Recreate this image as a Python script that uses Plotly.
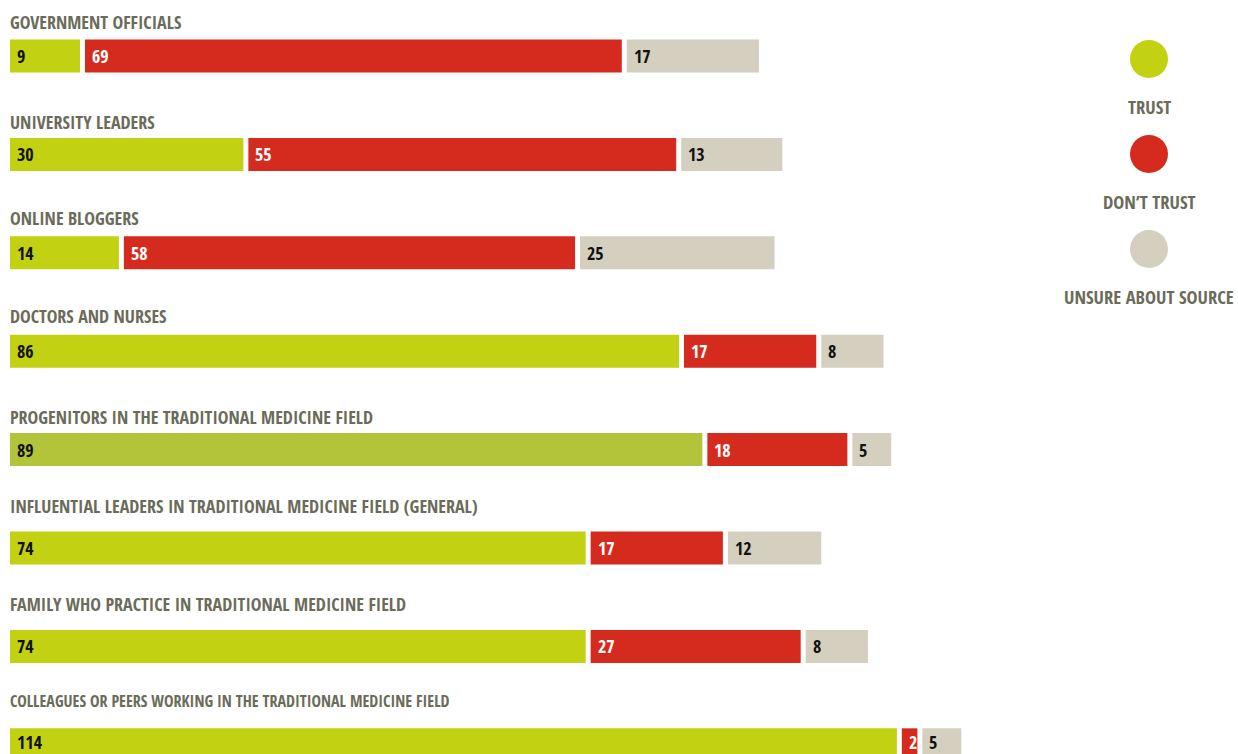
import plotly.graph_objects as go

categories = [
    "GOVERNMENT OFFICIALS",
    "UNIVERSITY LEADERS",
    "ONLINE BLOGGERS",
    "DOCTORS AND NURSES",
    "PROGENITORS IN THE TRADITIONAL MEDICINE FIELD",
    "INFLUENTIAL LEADERS IN TRADITIONAL MEDICINE FIELD (GENERAL)",
    "FAMILY WHO PRACTICE IN TRADITIONAL MEDICINE FIELD",
    "COLLEAGUES OR PEERS WORKING IN THE TRADITIONAL MEDICINE FIELD",
]
trust = [9, 30, 14, 86, 89, 74, 74, 114]
dont_trust = [69, 55, 58, 17, 18, 17, 27, 2]
unsure = [17, 13, 25, 8, 5, 12, 8, 5]
series_names = ["TRUST", "DON\u2019T TRUST", "UNSURE ABOUT SOURCE"]

# styles
GREEN = "#c2d112"
GREEN_HL = "#b4c43a"
RED = "#d52b1f"
GREY = "#d4cfbe"
TEXT = "#6b6b5a"
FONT = "Open Sans Condensed, Roboto Condensed, Liberation Sans Narrow, sans-serif"
GAP = 0.64          # gap between segments, in value units
BAR_W = 0.335
ROW_PX = 98.4
title_shift = [16, 14, 16, 17, 14, 24, 24, 25]
title_size = [18, 18, 18, 18, 18, 18, 18, 16]

idx = list(range(len(categories)))
base_red = [t + GAP for t in trust]
base_grey = [t + d + 2 * GAP for t, d in zip(trust, dont_trust)]
green_colors = [GREEN_HL if i == 4 else GREEN for i in idx]

fig = go.Figure()
fig.add_trace(go.Bar(y=idx, x=trust, base=[0] * len(idx), orientation="h",
                     marker=dict(color=green_colors, line=dict(width=0)),
                     width=BAR_W, name=series_names[0], hoverinfo="x"))
fig.add_trace(go.Bar(y=idx, x=dont_trust, base=base_red, orientation="h",
                     marker=dict(color=RED, line=dict(width=0)),
                     width=BAR_W, name=series_names[1], hoverinfo="x"))
fig.add_trace(go.Bar(y=idx, x=unsure, base=base_grey, orientation="h",
                     marker=dict(color=GREY, line=dict(width=0)),
                     width=BAR_W, name=series_names[2], hoverinfo="x"))

annotations = []
for i in idx:
    annotations.append(dict(x=0, y=i, xref="x", yref="y", text=categories[i],
                            xanchor="left", yanchor="middle", showarrow=False,
                            xshift=-2,
                            yshift=ROW_PX * BAR_W / 2 + title_shift[i] + 2,
                            font=dict(family=FONT, size=title_size[i], color=TEXT, weight="bold")))
    for xb, v, col in ((0, trust[i], "#111111"), (base_red[i], dont_trust[i], "#ffffff"),
                       (base_grey[i], unsure[i], "#111111")):
        annotations.append(dict(x=xb, y=i, xref="x", yref="y", text=str(v),
                                xanchor="left", yanchor="middle", showarrow=False,
                                xshift=5, yshift=3 if i == 7 else 0,
                                font=dict(family=FONT, size=18, color=col, weight="bold")))

# legend
PLOT_L, PLOT_W = 10, 1030
leg_x = (1149 - PLOT_L) / PLOT_W
shapes = []
for k, (col, cy, ly) in enumerate(((GREEN, 59, 106), (RED, 154, 201), (GREY, 249, 296))):
    yp = 1 - cy / 754
    shapes.append(dict(type="circle", xref="paper", yref="paper",
                       xsizemode="pixel", ysizemode="pixel",
                       xanchor=leg_x, yanchor=yp, x0=-19, x1=19, y0=-19, y1=19,
                       fillcolor=col, line=dict(width=0)))
    annotations.append(dict(x=leg_x, y=1 - ly / 754, xref="paper", yref="paper",
                            text=series_names[k], showarrow=False,
                            xanchor="center", yanchor="middle",
                            font=dict(family=FONT, size=18.5, color=TEXT, weight="bold")))

fig.update_layout(
    width=1238, height=754,
    margin=dict(l=PLOT_L, r=1238 - PLOT_L - PLOT_W, t=0, b=0),
    paper_bgcolor="white", plot_bgcolor="white",
    barmode="overlay", showlegend=False,
    xaxis=dict(range=[0, 132.4], visible=False, fixedrange=True),
    yaxis=dict(range=[754 / ROW_PX - 56 / ROW_PX, -56 / ROW_PX], visible=False, fixedrange=True),
    annotations=annotations, shapes=shapes,
)
fig.write_html("out.html")
